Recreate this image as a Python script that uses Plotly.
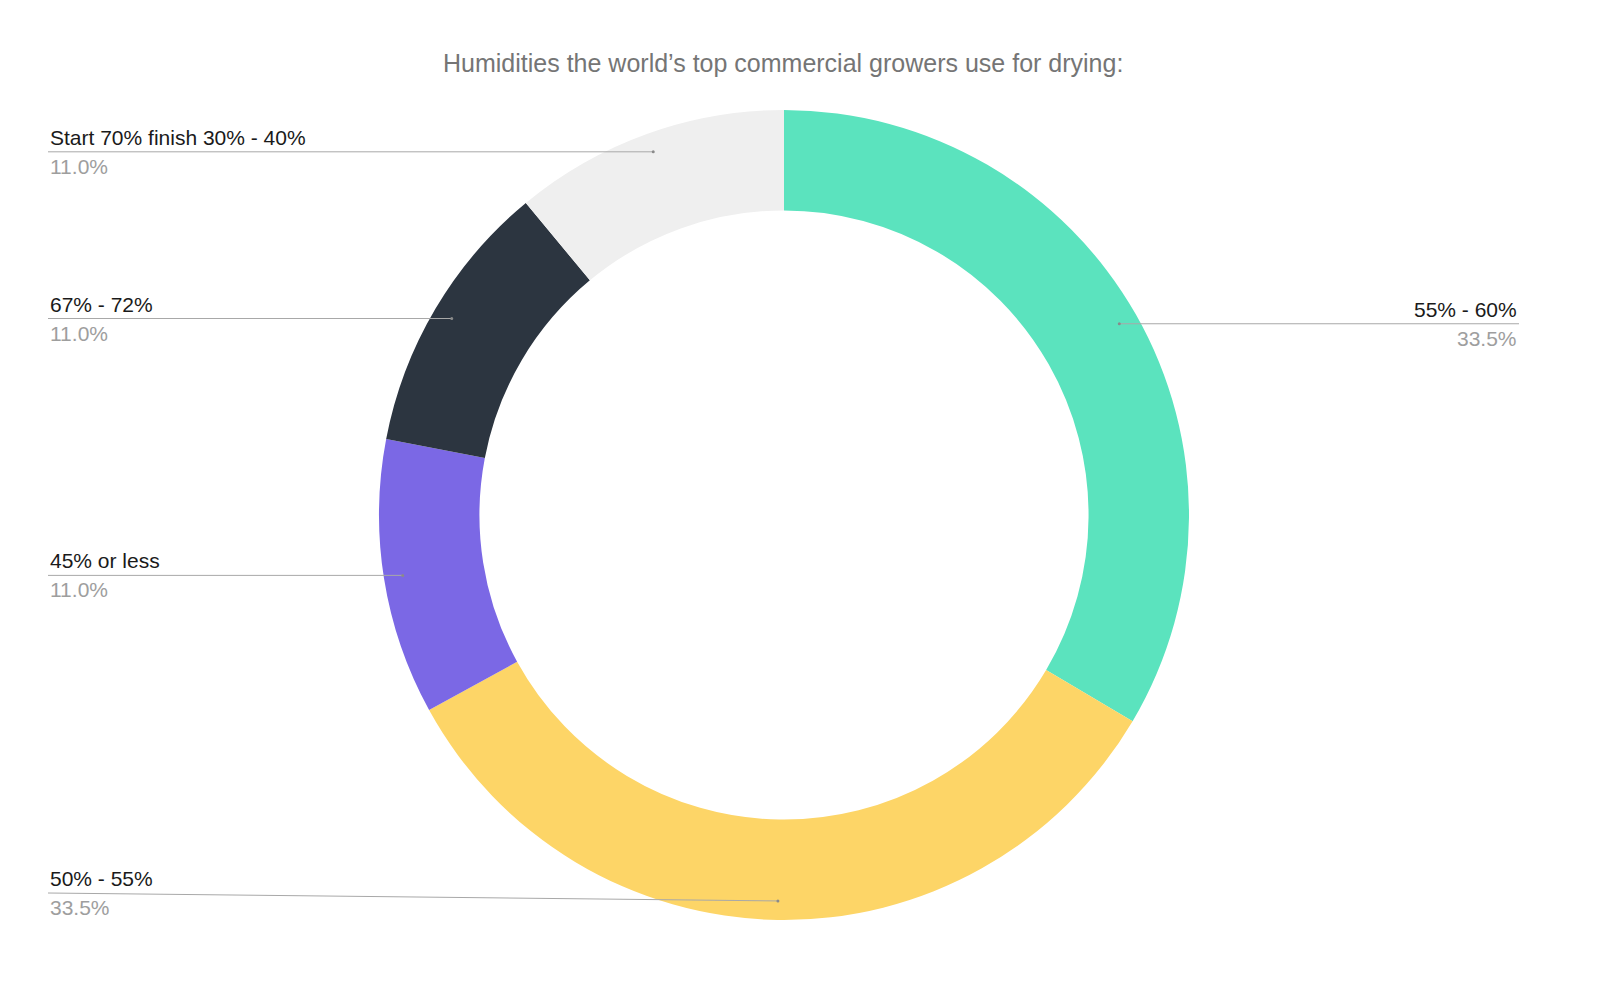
import math
import plotly.graph_objects as go

# ---- data ----
categories = ["55% - 60%", "50% - 55%", "45% or less", "67% - 72%", "Start 70% finish 30% - 40%"]
shares = [33.5, 33.5, 11.0, 11.0, 11.0]
colors = ["#5BE3BE", "#FDD567", "#7B68E5", "#2C3540", "#EFEFEF"]
title_text = "Humidities the world\u2019s top commercial growers use for drying:"

# ---- layout geometry (page pixels) ----
PAGE_OFF = 8                 # default body margin of the page
W, H = 1600 - 2 * PAGE_OFF, 989 - 2 * PAGE_OFF
CX, CY, R = 784, 515, 405
HOLE = 0.752
ANCHOR_R = 386
LEFT_X, RIGHT_X = 48, 1519
MAX_LINE_Y = 893
FONT = "Liberation Sans, Arial, sans-serif"
FS = 21


def px(x):
    return (x - PAGE_OFF) / W


def py(y):
    return 1 - (y - PAGE_OFF) / H


fig = go.Figure(go.Pie(
    labels=categories,
    values=shares,
    marker=dict(colors=colors, line=dict(width=0)),
    hole=HOLE,
    sort=False,
    direction="clockwise",
    rotation=0,
    textinfo="none",
    showlegend=False,
    domain=dict(x=[px(CX - R), px(CX + R)], y=[py(CY + R), py(CY - R)]),
))

shapes = []
annotations = []
total = sum(shares)
cum = 0.0
for name, v in zip(categories, shares):
    mid = (cum + v / 2) / total
    cum += v
    ang = 2 * math.pi * mid
    ax = CX + ANCHOR_R * math.sin(ang)
    ay = CY - ANCHOR_R * math.cos(ang)
    line_y = min(ay, MAX_LINE_Y)
    right = ax > CX + 10
    lx = RIGHT_X if right else LEFT_X
    shapes.append(dict(type="line", xref="paper", yref="paper",
                       x0=px(lx), y0=py(line_y), x1=px(ax), y1=py(ay),
                       line=dict(color="#A8A8A8", width=1)))
    shapes.append(dict(type="circle", xref="paper", yref="paper",
                       x0=px(ax - 1.5), x1=px(ax + 1.5), y0=py(ay + 1.5), y1=py(ay - 1.5),
                       fillcolor="#8A8A8A", line=dict(width=0)))
    xa = "right" if right else "left"
    annotations.append(dict(x=px(lx), y=py(line_y - 1), xref="paper", yref="paper",
                            text=name, showarrow=False, xanchor=xa, yanchor="bottom",
                            font=dict(family=FONT, size=FS, color="#1A1A1A")))
    annotations.append(dict(x=px(lx), y=py(line_y + 1), xref="paper", yref="paper",
                            text=f"{v / total * 100:.1f}%", showarrow=False, xanchor=xa, yanchor="top",
                            font=dict(family=FONT, size=FS, color="#9E9E9E")))

annotations.append(dict(x=px(783), y=py(63), xref="paper", yref="paper", text=title_text,
                        showarrow=False, xanchor="center", yanchor="middle",
                        font=dict(family=FONT, size=25, color="#757575")))

fig.update_layout(
    width=W, height=H,
    margin=dict(l=0, r=0, t=0, b=0),
    paper_bgcolor="white", plot_bgcolor="white",
    shapes=shapes, annotations=annotations,
)

fig.write_html("out.html")
